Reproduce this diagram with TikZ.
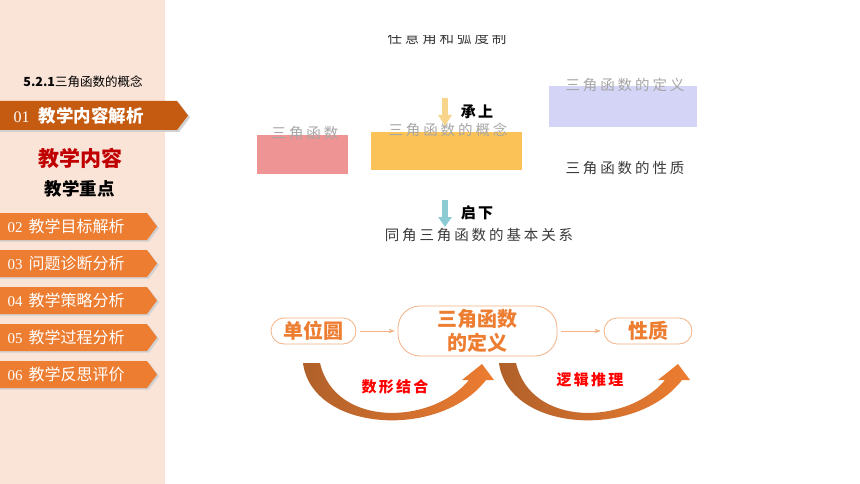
\documentclass[tikz,border=0pt]{standalone}
\usepackage{fontspec}
\usetikzlibrary{arrows.meta}
\setmainfont{Noto Sans CJK SC}
\newfontfamily\numfont{Liberation Serif}
\newfontfamily\wideA{Noto Sans CJK SC}[LetterSpace=20]
\newfontfamily\wideB{Noto Sans CJK SC}[LetterSpace=15]
\newcommand{\fsz}[1]{\fontsize{#1}{#1}\selectfont}

\definecolor{panel}{HTML}{FAE3D7}
\definecolor{tabdark}{HTML}{C55A11}
\definecolor{tabor}{HTML}{ED7D31}
\definecolor{dred}{HTML}{C00000}
\definecolor{boxred}{HTML}{EF9494}
\definecolor{boxyel}{HTML}{FBC357}
\definecolor{boxblu}{HTML}{D4D4F6}
\definecolor{arryel}{HTML}{F8D58C}
\definecolor{arrteal}{HTML}{8CCAD4}
\definecolor{pillline}{HTML}{F4B183}
\definecolor{umber}{HTML}{B0602A}
\definecolor{txtgray}{HTML}{3A3A3A}

\begin{document}
\begin{tikzpicture}[x=1pt,y=-1pt,
   plain/.style={font=\wideA\fsz{14.5}, text=txtgray},
   ghost/.style={font=\wideA\fsz{14.5}, text=gray!70},
   cue/.style={font=\wideB\fsz{15}\bfseries, text=black},
   skill/.style={font=\wideB\fsz{15}\bfseries, text=red},
   pill/.style={draw=pillline, line width=0.8pt, rounded corners=13pt, text=tabor,
                font=\fsz{20}\bfseries, align=center, inner sep=0pt},
   link/.style={draw=pillline, line width=0.6pt, -{Stealth[length=6pt,width=4.5pt]},
                shorten <=4pt, shorten >=3pt}]
   \useasboundingbox (0,0) rectangle (860,484);
   \fill[white] (0,0) rectangle (860,484);
   \fill[panel] (0,0) rectangle (165,484);
   \node (course) at (83,82) {\fsz{12.5}\textbf{5.2.1}三角函数的概念};
   \fill[black!18] (0,103) -- (179,103) -- (190,117.5) -- (179,132) -- (0,132) -- cycle;
   \fill[tabdark] (0,101) -- (177,101) -- (188,115.5) -- (177,130) -- (0,130) -- cycle;
   \node[anchor=west, text=white] (tab01) at (10,115.5)
      {{\numfont\fsz{16}01}\hspace{9pt}{\fsz{17.5}\bfseries 教学内容解析}};
   \node[text=dred, font=\fsz{21}\bfseries] (content) at (80,158) {教学内容};
   \node[font=\fsz{17.5}\bfseries] (focus) at (80,189) {教学重点};
   \foreach \n/\t [count=\i] in {02/教学目标解析, 03/问题诊断分析, 04/教学策略分析,
                                 05/教学过程分析, 06/教学反思评价} {
      \pgfmathsetmacro\yy{226.5+37*(\i-1)}
      \fill[black!18] (0,\yy-11.5) -- (149,\yy-11.5) -- (159,\yy+1.5) -- (149,\yy+15) -- (0,\yy+15) -- cycle;
      \fill[tabor] (0,\yy-13.5) -- (147,\yy-13.5) -- (157,\yy) -- (147,\yy+13.5) -- (0,\yy+13.5) -- cycle;
      \node[anchor=west, text=white] (tab\n) at (4,\yy) {{\numfont\fsz{15}\n}\hspace{6pt}{\fsz{16}\t}};
   }

   \begin{scope}
      \clip (300,35.5) rectangle (600,60);
      \node[plain] (angle) at (447,38) {任意角和弧度制};
   \end{scope}
   \fill[boxred] (257,135) rectangle (348,174);
   \fill[boxyel] (371,132) rectangle (522,170);
   \fill[boxblu] (549,86) rectangle (697,127);
   \node[ghost] (trig) at (305,133) {三角函数};
   \node[ghost] (concept) at (448,130) {三角函数的概念};
   \node[ghost] (definition) at (625,85) {三角函数的定义};
   \node[plain] (property) at (625,168) {三角函数的性质};
   \coordinate (up1) at (445,98);
   \coordinate (up2) at (445,126);
   \draw[line width=6pt, arryel, -{Triangle[width=13pt,length=11pt]}] (up1) -- (up2);
   \node[cue] (carry) at (477,112) {承上};
   \coordinate (down1) at (445,200);
   \coordinate (down2) at (445,227);
   \draw[line width=6pt, arrteal, -{Triangle[width=13pt,length=10pt]}] (down1) -- (down2);
   \node[cue] (lead) at (477,213) {启下};
   \node[plain] (relation) at (479,235) {同角三角函数的基本关系};

   \node[pill, minimum width=85pt, minimum height=26pt] (circ) at (313.5,331) {单位圆};
   \node[pill, minimum width=159pt, minimum height=50pt, rounded corners=22pt] (defn) at (477.5,331)
      {三角函数\\[4pt]的定义};
   \node[pill, minimum width=88pt, minimum height=26pt] (prop) at (648,331) {性质};
   \draw[link] (circ) -- (defn);
   \draw[link] (defn) -- (prop);
   \foreach \dx in {0,196} {
      \shade[left color=umber, right color=tabor, shift={(\dx,0)}]
         (303,363) .. controls (312,432) and (440,440) .. (486,380) -- (494,380) -- (482,364)
         -- (462,380) -- (469,380) .. controls (432,425) and (335,428) .. (320,363) -- cycle;
   }
   \node[skill] (shape) at (395,387) {数形结合};
   \node[skill] (logic) at (590,380) {逻辑推理};
\end{tikzpicture}
\end{document}
